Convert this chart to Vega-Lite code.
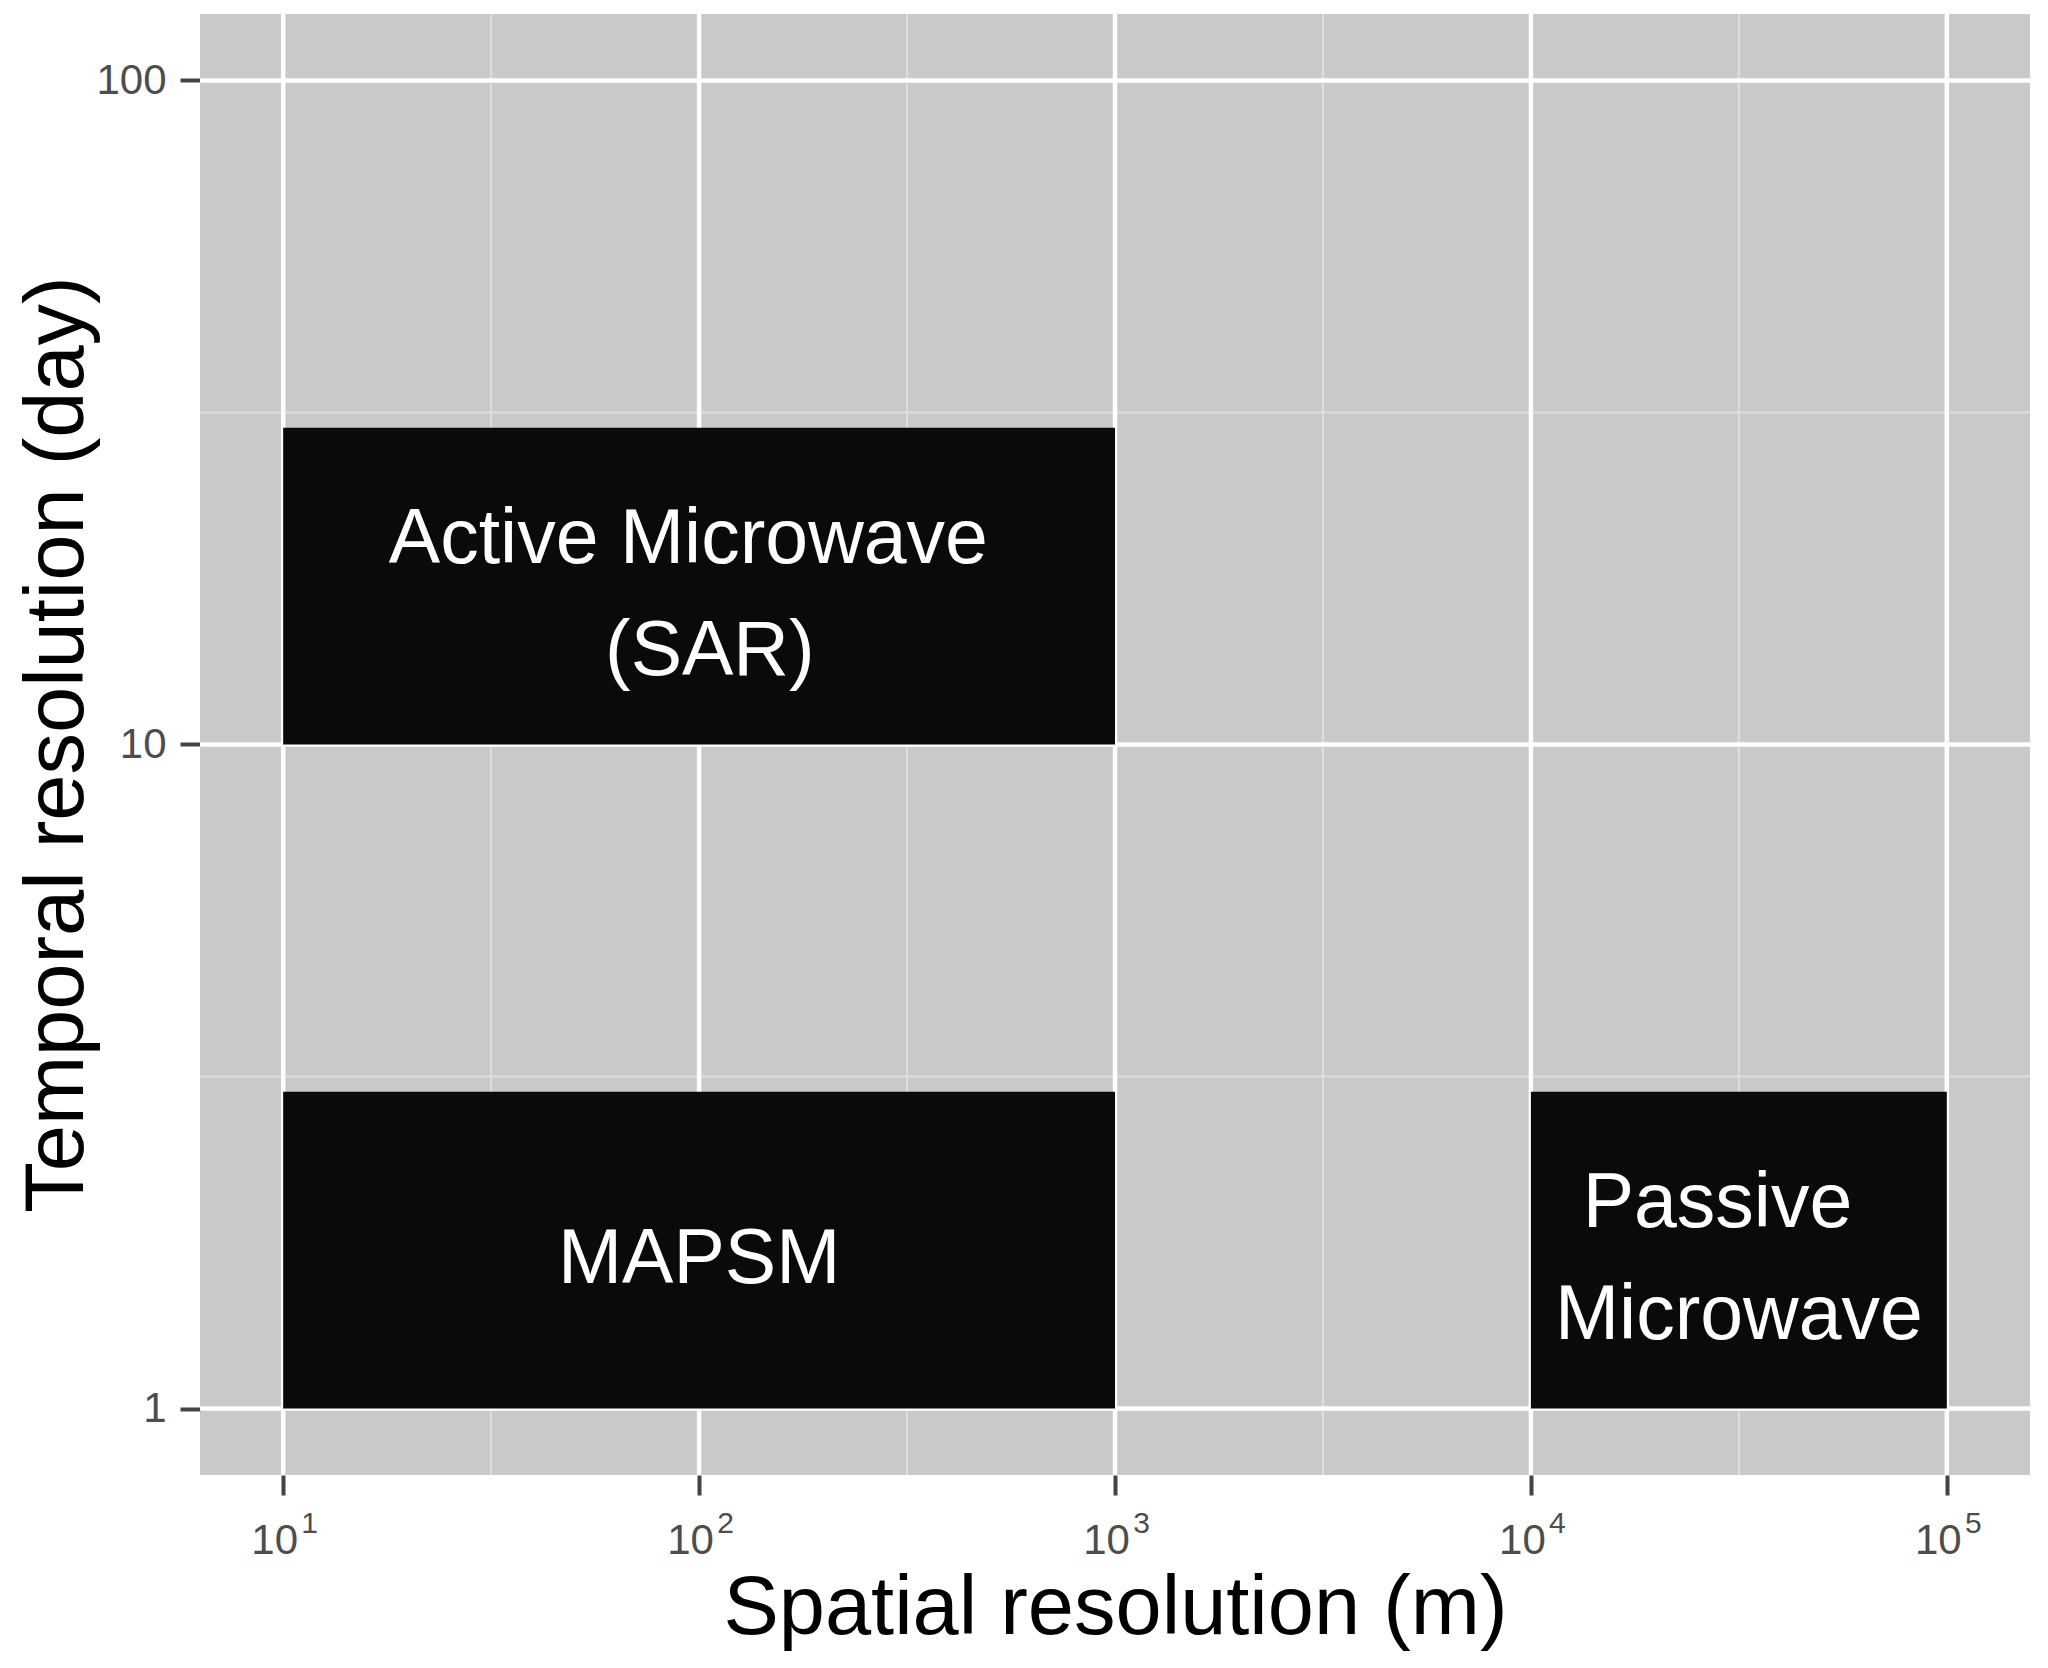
{
  "$schema": "https://vega.github.io/schema/vega-lite/v6.json",
  "autosize": "none",
  "width": 1830,
  "height": 1461,
  "padding": {"left": 200, "top": 14, "right": 18, "bottom": 193},
  "background": "white",
  "view": {"fill": "#C9C9C9", "stroke": null},
  "config": {
    "font": "Liberation Sans",
    "axis": {
      "domain": false,
      "grid": false,
      "tickSize": 20,
      "tickWidth": 4,
      "tickColor": "#444444",
      "labelFont": "Liberation Sans",
      "labelFontSize": 42,
      "labelColor": "#4D4D4D",
      "titleFont": "Liberation Sans",
      "titleFontSize": 83,
      "titleFontWeight": "normal",
      "titleColor": "#000000"
    }
  },
  "datasets": {
    "rects": [
      {"name": "Active Microwave\u00a0\u200b\n\u200b\u00a0(SAR)", "x": 10, "x2": 1000, "y": 10, "y2": 30, "cx": 100, "cy": 17.32},
      {"name": "MAPSM", "x": 10, "x2": 1000, "y": 1, "y2": 3, "cx": 100, "cy": 1.732},
      {"name": "Passive\u00a0\u00a0\u200b\nMicrowave", "x": 10000, "x2": 100000, "y": 1, "y2": 3, "cx": 31623, "cy": 1.732}
    ],
    "xminor": [{"x": 31.623}, {"x": 316.23}, {"x": 3162.3}, {"x": 31623}],
    "xmajor": [{"x": 10}, {"x": 100}, {"x": 1000}, {"x": 10000}, {"x": 100000}],
    "yminor": [{"y": 3.1623}, {"y": 31.623}],
    "ymajor": [{"y": 1}, {"y": 10}, {"y": 100}]
  },
  "resolve": {"axis": {"x": "independent", "y": "independent"}},
  "layer": [
    {
      "data": {"name": "xminor"},
      "mark": {"type": "rule", "color": "#DEDEDE", "strokeWidth": 2},
      "encoding": {
        "x": {"field": "x", "type": "quantitative", "scale": {"type": "log", "domain": [6.3096, 158489.3], "nice": false}, "axis": null}
      }
    },
    {
      "data": {"name": "yminor"},
      "mark": {"type": "rule", "color": "#DEDEDE", "strokeWidth": 2},
      "encoding": {
        "y": {"field": "y", "type": "quantitative", "scale": {"type": "log", "domain": [0.79433, 125.89], "nice": false}, "axis": null}
      }
    },
    {
      "data": {"name": "xmajor"},
      "mark": {"type": "rule", "color": "#FFFFFF", "strokeWidth": 4.5},
      "encoding": {
        "x": {
          "field": "x", "type": "quantitative",
          "scale": {"type": "log", "domain": [6.3096, 158489.3], "nice": false},
          "axis": {
            "orient": "bottom",
            "title": null,
            "ticks": false,
            "values": [10, 100, 1000, 10000, 100000],
            "labelFontSize": 30,
            "labelPadding": 33,
            "labelOffset": 26,
            "labelExpr": "datum.value == 10 ? '1' : datum.value == 100 ? '2' : datum.value == 1000 ? '3' : datum.value == 10000 ? '4' : '5'"
          }
        }
      }
    },
    {
      "data": {"name": "ymajor"},
      "mark": {"type": "rule", "color": "#FFFFFF", "strokeWidth": 4.5},
      "encoding": {
        "y": {"field": "y", "type": "quantitative", "scale": {"type": "log", "domain": [0.79433, 125.89], "nice": false}, "axis": null}
      }
    },
    {
      "data": {"name": "rects"},
      "mark": {"type": "rect", "fill": "#0A0A0A"},
      "encoding": {
        "x": {
          "field": "x", "type": "quantitative",
          "scale": {"type": "log", "domain": [6.3096, 158489.3], "nice": false},
          "axis": {
            "orient": "bottom",
            "title": "Spatial resolution (m)",
            "values": [10, 100, 1000, 10000, 100000],
            "labelPadding": 25,
            "labelOffset": -9,
            "labelExpr": "'10'",
            "titleY": 158,
            "titleBaseline": "alphabetic"
          }
        },
        "x2": {"field": "x2"},
        "y": {
          "field": "y", "type": "quantitative",
          "scale": {"type": "log", "domain": [0.79433, 125.89], "nice": false},
          "axis": {
            "orient": "left",
            "title": "Temporal resolution (day)",
            "values": [1, 10, 100],
            "format": "d",
            "labelPadding": 14,
            "titleX": -118,
            "titleY": 730,
            "titleBaseline": "alphabetic"
          }
        },
        "y2": {"field": "y2"}
      }
    },
    {
      "data": {"name": "rects"},
      "transform": [{"filter": "indexof(datum.name, '\\n') < 0"}],
      "mark": {"type": "text", "color": "#FFFFFF", "fontSize": 77, "font": "Liberation Sans", "align": "center", "baseline": "middle", "dy": 10},
      "encoding": {
        "x": {"field": "cx", "type": "quantitative", "scale": {"type": "log", "domain": [6.3096, 158489.3], "nice": false}, "axis": null},
        "y": {"field": "cy", "type": "quantitative", "scale": {"type": "log", "domain": [0.79433, 125.89], "nice": false}, "axis": null},
        "text": {"field": "name"}
      }
    },
    {
      "data": {"name": "rects"},
      "transform": [{"filter": "indexof(datum.name, '\\n') >= 0"}],
      "mark": {"type": "text", "color": "#FFFFFF", "fontSize": 77, "font": "Liberation Sans", "align": "center", "baseline": "middle", "lineBreak": "\n", "lineHeight": 112, "dy": -46},
      "encoding": {
        "x": {"field": "cx", "type": "quantitative", "scale": {"type": "log", "domain": [6.3096, 158489.3], "nice": false}, "axis": null},
        "y": {"field": "cy", "type": "quantitative", "scale": {"type": "log", "domain": [0.79433, 125.89], "nice": false}, "axis": null},
        "text": {"field": "name"}
      }
    }
  ]
}
